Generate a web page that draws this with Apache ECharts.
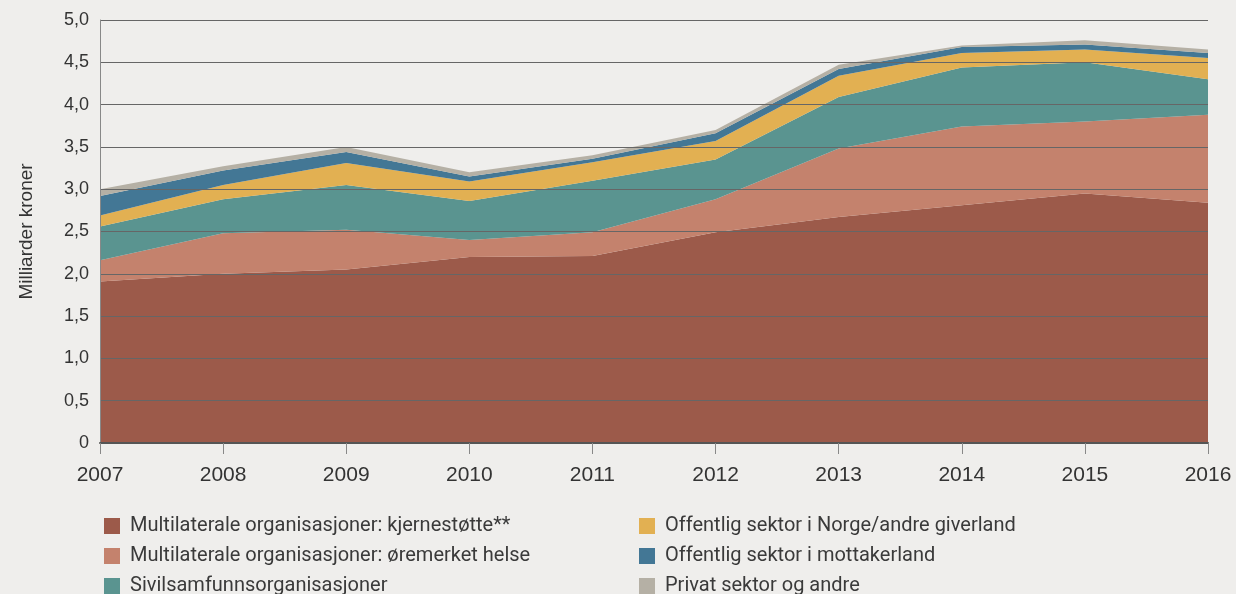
<!DOCTYPE html>
<html>
<head>
<meta charset="utf-8">
<script src="https://cdn.jsdelivr.net/npm/echarts@6/dist/echarts.min.js"></script>
<style>
  html, body { margin: 0; padding: 0; background: #efeeec; }
  #chart { width: 1236px; height: 594px; }
</style>
</head>
<body>
<div id="chart"></div>
<script>
// årstall
var years = ['2007', '2008', '2009', '2010', '2011', '2012', '2013', '2014', '2015', '2016'];
// milliarder kroner, per kategori (stablet)
var kjernestotte = [1.91, 2.00, 2.05, 2.20, 2.21, 2.49, 2.67, 2.81, 2.95, 2.84];
var oremerketHelse = [0.25, 0.48, 0.47, 0.20, 0.28, 0.39, 0.81, 0.93, 0.85, 1.04];
var sivilsamfunn = [0.40, 0.40, 0.53, 0.46, 0.61, 0.47, 0.61, 0.70, 0.70, 0.42];
var offentligNorge = [0.13, 0.17, 0.26, 0.23, 0.22, 0.22, 0.25, 0.17, 0.15, 0.25];
var offentligMottaker = [0.23, 0.17, 0.13, 0.06, 0.04, 0.09, 0.08, 0.07, 0.06, 0.06];
var privat = [0.08, 0.05, 0.06, 0.05, 0.04, 0.04, 0.05, 0.02, 0.05, 0.04];

var names = [
    'Multilaterale organisasjoner: kjernestøtte**',
    'Multilaterale organisasjoner: øremerket helse',
    'Sivilsamfunnsorganisasjoner',
    'Offentlig sektor i Norge/andre giverland',
    'Offentlig sektor i mottakerland',
    'Privat sektor og andre'
];
var colors = ['#9c5a4a', '#c4826d', '#5a9490', '#e2b052', '#437795', '#b5b0a5'];
var values = [kjernestotte, oremerketHelse, sivilsamfunn, offentligNorge, offentligMottaker, privat];

var font = '"Liberation Sans", Arial, sans-serif';

var myChart = echarts.init(document.getElementById('chart'));

var series = names.map(function (n, i) {
    return {
        name: n,
        type: 'line',
        stack: 'total',
        showSymbol: false,
        symbol: 'none',
        lineStyle: { width: 0 },
        areaStyle: { color: colors[i], opacity: 1 },
        itemStyle: { color: colors[i] },
        data: values[i]
    };
});

var legendText = { fontSize: 20, color: '#3a3a3a', fontFamily: 'Roboto, sans-serif', padding: [0, 0, 0, 5] };

var option = {
    backgroundColor: '#efeeec',
    animation: false,
    textStyle: { fontFamily: font },
    grid: { left: 100, right: 28, top: 20, bottom: 151 },
    legend: [
        {
            orient: 'vertical', left: 99, top: 511, height: 90,
            itemWidth: 16, itemHeight: 16, itemGap: 10,
            icon: 'rect',
            textStyle: legendText,
            data: names.slice(0, 3)
        },
        {
            orient: 'vertical', left: 634, top: 511, height: 90,
            itemWidth: 16, itemHeight: 16, itemGap: 10,
            icon: 'rect',
            textStyle: legendText,
            data: names.slice(3)
        }
    ],
    xAxis: {
        type: 'category',
        boundaryGap: false,
        data: years,
        z: 5,
        axisLine: { lineStyle: { color: '#555', width: 2 } },
        axisTick: { show: true, length: 11, lineStyle: { color: '#888' } },
        axisLabel: { color: '#333', fontSize: 21, margin: 22, fontFamily: font }
    },
    yAxis: {
        type: 'value',
        min: 0,
        max: 5,
        interval: 0.5,
        z: 5,
        name: 'Milliarder kroner',
        nameLocation: 'middle',
        nameGap: 64,
        nameTextStyle: { color: '#333', fontSize: 19, fontFamily: font },
        axisLine: { show: true, lineStyle: { color: '#888' } },
        axisTick: { show: false },
        axisLabel: {
            color: '#333', fontSize: 18, margin: 11,
            fontFamily: font,
            formatter: function (v) {
                return v === 0 ? '0' : v.toFixed(1).replace('.', ',');
            }
        },
        splitLine: { show: true, lineStyle: { color: '#666', width: 1 } }
    },
    series: series
};
myChart.setOption(option);
</script>
</body>
</html>
